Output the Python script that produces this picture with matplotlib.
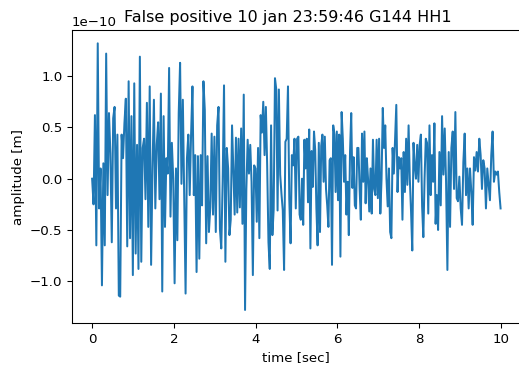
import numpy as np
import matplotlib
matplotlib.use("Agg")
import matplotlib.pyplot as plt

# Seismic trace, amplitude in units of 1e-10 m, stored as consecutive
# segments; each segment spans the time interval given by seg_edges (sec).
seg_edges = [0.0, 1.616, 3.33, 5.05, 6.755, 8.47, 10.0]

seg1 = [0.0, -0.25, 0.62, -0.65, 1.32, -0.29, 0.1, -1.04, 0.15, -0.65, 1.22,
        -0.16, 0.64, 0.25, -0.62, 0.59, 0.70, -0.29, 0.43, -1.14, -1.15, 0.43,
        0.2, 0.54, 0.78, -0.66, 0.95, -0.58, 0.61, -0.94, 0.93, -0.73, 0.33,
        -0.88, 1.19, -0.81, 0.3, 0.39, -0.2, 0.74, -0.47, 0.9, -0.84, 0.1,
        0.77, -0.29, 0.33]
seg2 = [0.55, -0.2, 0.83, -1.10, 0.61, -0.47, 0.2, 0.05, 1.08, -0.37, 0.35,
        0.0, -1.02, 0.1, -0.6, 0.64, 1.13, -0.05, 0.77, -0.16, -1.12, 0.2,
        0.43, -0.16, 0.43, 0.90, -0.16, 0.23, -0.91, 0.22, -0.78, 0.23, -0.26,
        0.95, 0.67, -0.63, 0.22, -0.52, -0.28, 0.44, -0.35, 0.41, -0.52, 0.52,
        0.70, -0.49, -0.68, -0.03, 0.91, -0.81, 0.3]
seg3 = [0.1, -0.55, -0.4, 0.52, 0.1, -0.35, 0.4, -0.33, 0.39, -0.28, 0.49,
        -0.44, 0.82, -1.28, -0.1, 0.38, 0.05, 0.33, -0.03, -0.94, 0.13, 0.1,
        -0.42, 0.3, -0.58, 0.62, 0.45, 0.75, 0.23, 0.7, 0.13, -0.62, -0.88,
        0.52, -0.55, -0.3, 0.98, 0.87, -0.31, 0.87, 0.04, -0.15, -0.31, -0.89,
        0.36, 0.39, 0.90, -0.2, -0.63, 0.23, 0.13, 0.39, -0.29, 0.39]
seg4 = [0.41, -0.35, -0.40, 0.0, -0.45, 0.38, 0.1, 0.39, -0.23, 0.48, -0.68,
        0.27, -0.08, 0.46, 0.28, -0.29, -0.65, 0.35, -0.52, 0.32, 0.43, -0.03,
        0.41, -0.1, -0.26, -0.47, 0.18, 0.2, -0.84, 0.52, 0.43, -0.13, 0.46,
        -0.21, 0.43, -0.76, 0.65, 0.39, -0.03, 0.23, -0.35, -0.03, -0.55, 0.26,
        0.64, -0.09, 0.21, -0.26, -0.29, 0.3, 0.3, -0.1, -0.40, 0.44, -0.03,
        0.46, -0.24, 0.2]
seg5 = [0.0, -0.32, 0.1, -0.34, 0.38, -0.1, -0.16, 0.38, -0.19, 0.39, -0.34,
        0.0, 0.69, 0.3, 0.52, 0.0, -0.27, 0.1, -0.52, -0.58, 0.3, 0.05, 0.38,
        0.72, -0.13, 0.21, 0.1, 0.2, -0.40, 0.26, -0.13, 0.39, -0.06, 0.52,
        0.0, -0.32, -0.70, 0.35, 0.13, 0.0, 0.33, -0.03, 0.33, 0.43, -0.27,
        -0.57, 0.0, 0.39, 0.35, -0.34, 0.52, -0.16, 0.23, -0.03, 0.54, -0.44,
        -0.16]
seg6 = [-0.50, 0.26, -0.26, 0.61, 0.04, 0.49, -0.03, -0.89, 0.26, -0.47, 0.3,
        0.46, -0.1, 0.65, -0.19, -0.22, 0.02, -0.29, -0.45, 0.16, 0.44, -0.16,
        0.1, -0.29, 0.1, -0.13, -0.45, 0.21, 0.08, 0.26, 0.07, 0.39, 0.23,
        -0.1, 0.18, 0.1, -0.29, 0.1, -0.06, -0.21, 0.23, 0.46, -0.03, 0.07,
        0.04, 0.07, -0.13, -0.29]

segments = [seg1, seg2, seg3, seg4, seg5, seg6]

times, amps = [], []
for i, seg in enumerate(segments):
    last = i == len(segments) - 1
    times.append(np.linspace(seg_edges[i], seg_edges[i + 1], len(seg),
                             endpoint=last))
    amps.append(np.array(seg))
t = np.concatenate(times)
amp = np.concatenate(amps) * 1e-10

fig = plt.figure(figsize=(519 / 96, 369 / 96), dpi=96)
ax = fig.add_axes([71.7 / 519, 45.7 / 369, 449.3 / 519, 293.3 / 369])
ax.plot(t, amp, color="#1f77b4", linewidth=1.5)
ax.set_xlabel("time [sec]")
ax.set_ylabel("amplitude [m]")
ax.set_title("False positive 10 jan 23:59:46 G144 HH1")
ax.title.set_position((0.481, 1.0))

fig.savefig("out.png", dpi=96)
